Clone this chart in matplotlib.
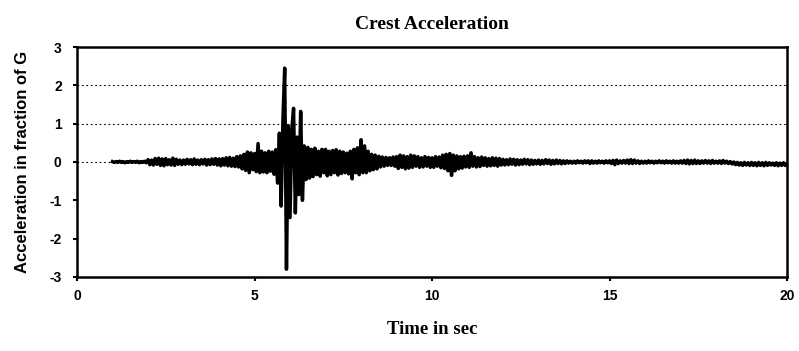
import numpy as np
import matplotlib.pyplot as plt

# crest acceleration record, sampled every 0.05 s from 1.0 s to 20.0 s
t_start = 1.0
dt = 0.05
accel = [
    # 1 s
    0.01, -0.01, 0.01, -0.01, 0.02, -0.01, 0.01, -0.02, 0.01, -0.01,
    0.02, -0.01, 0.01, -0.01, 0.02, -0.02, 0.01, -0.01, 0.02, -0.02,
    # 2 s
    0.06, -0.07, 0.05, -0.08, 0.09, -0.06, 0.10, -0.09, 0.08, -0.10,
    0.09, -0.07, 0.06, -0.08, 0.10, -0.09, 0.07, -0.06, 0.05, -0.07,
    # 3 s
    0.05, -0.06, 0.07, -0.05, 0.06, -0.07, 0.08, -0.06, 0.05, -0.07,
    0.06, -0.05, 0.07, -0.08, 0.06, -0.07, 0.08, -0.06, 0.09, -0.08,
    # 4 s
    0.08, -0.10, 0.09, -0.08, 0.11, -0.10, 0.12, -0.11, 0.10, -0.12,
    0.14, -0.13, 0.16, -0.18, 0.20, -0.22, 0.26, -0.28, 0.24, -0.20,
    # 5 s
    0.22, -0.25, 0.48, -0.28, 0.28, -0.26, 0.24, -0.28, 0.28, -0.24,
    0.26, -0.32, 0.32, -0.55, 0.75, -1.15, 1.10, 2.45, -2.80, 0.95,
    # 6 s
    -1.45, 0.85, 1.40, -1.33, 0.65, -0.85, 1.32, -1.00, 0.42, -0.46,
    0.38, -0.42, 0.33, -0.38, 0.36, -0.33, 0.28, -0.37, 0.33, -0.28,
    # 7 s
    0.33, -0.36, 0.28, -0.33, 0.30, -0.28, 0.32, -0.34, 0.28, -0.30,
    0.26, -0.28, 0.23, -0.31, 0.28, -0.44, 0.33, -0.28, 0.37, -0.33,
    # 8 s
    0.58, -0.28, 0.42, -0.28, 0.28, -0.23, 0.20, -0.20, 0.18, -0.18,
    0.15, -0.13, 0.13, -0.11, 0.12, -0.09, 0.11, -0.09, 0.13, -0.11,
    # 9 s
    0.14, -0.17, 0.18, -0.14, 0.16, -0.18, 0.14, -0.16, 0.18, -0.14,
    0.16, -0.11, 0.14, -0.14, 0.11, -0.13, 0.14, -0.11, 0.12, -0.14,
    # 10 s
    0.11, -0.14, 0.14, -0.11, 0.13, -0.15, 0.18, -0.17, 0.20, -0.23,
    0.22, -0.35, 0.18, -0.23, 0.16, -0.18, 0.14, -0.16, 0.15, -0.13,
    # 11 s
    0.16, -0.14, 0.24, -0.11, 0.14, -0.13, 0.11, -0.12, 0.13, -0.09,
    0.11, -0.11, 0.09, -0.10, 0.11, -0.09, 0.10, -0.11, 0.09, -0.08,
    # 12 s
    0.07, -0.08, 0.06, -0.07, 0.08, -0.06, 0.07, -0.08, 0.06, -0.07,
    0.05, -0.06, 0.07, -0.05, 0.06, -0.07, 0.05, -0.06, 0.04, -0.05,
    # 13 s
    0.05, -0.06, 0.04, -0.05, 0.06, -0.04, 0.05, -0.06, 0.04, -0.05,
    0.05, -0.04, 0.04, -0.05, 0.03, -0.04, 0.03, -0.03, 0.02, -0.03,
    # 14 s
    0.02, -0.03, 0.03, -0.02, 0.02, -0.03, 0.03, -0.02, 0.03, -0.04,
    0.03, -0.03, 0.02, -0.03, 0.03, -0.02, 0.02, -0.03, 0.03, -0.02,
    # 15 s
    0.03, -0.04, 0.04, -0.07, 0.05, -0.04, 0.03, -0.03, 0.04, -0.03,
    0.05, -0.04, 0.06, -0.04, 0.05, -0.03, 0.03, -0.04, 0.02, -0.03,
    # 16 s
    0.02, -0.03, 0.03, -0.02, 0.02, -0.03, 0.02, -0.02, 0.03, -0.02,
    0.02, -0.03, 0.03, -0.02, 0.02, -0.03, 0.03, -0.03, 0.02, -0.03,
    # 17 s
    0.03, -0.03, 0.04, -0.04, 0.05, -0.05, 0.04, -0.04, 0.05, -0.04,
    0.03, -0.04, 0.03, -0.03, 0.04, -0.03, 0.03, -0.04, 0.04, -0.03,
    # 18 s
    0.02, -0.03, 0.03, -0.04, 0.04, -0.03, 0.02, -0.04, 0.01, -0.05,
    0.00, -0.07, -0.01, -0.08, -0.02, -0.09, -0.01, -0.08, -0.02, -0.09,
    # 19 s
    -0.01, -0.09, -0.02, -0.10, -0.01, -0.09, -0.02, -0.10, -0.01, -0.09,
    -0.02, -0.08, -0.03, -0.09, -0.02, -0.10, -0.03, -0.09, -0.02, -0.09,
    -0.06,
]
time = t_start + dt * np.arange(len(accel))

x_ticks = [0, 5, 10, 15, 20]
y_ticks = [-3, -2, -1, 0, 1, 2, 3]
grid_levels = [0, 1, 2]

fig = plt.figure(figsize=(7.99, 3.51), dpi=100)
ax = fig.add_axes([0.0964, 0.211, 0.8886, 0.655])

for lvl in grid_levels:
    ax.axhline(lvl, color='black', linewidth=0.8, linestyle=(0, (1.5, 2.5)), zorder=1)

ax.plot(time, accel, color='black', linewidth=2.5, zorder=3)

ax.set_xlim(0, 20)
ax.set_ylim(-3, 3)
ax.set_xticks(x_ticks)
ax.set_yticks(y_ticks)
ax.set_xticklabels([str(v) for v in x_ticks], fontweight='bold', fontsize=10,
                   family='Liberation Sans')
ax.set_yticklabels([str(v) for v in y_ticks], fontweight='bold', fontsize=10,
                   family='Liberation Sans')
ax.tick_params(axis='x', direction='out', length=3, width=1.5, pad=6)
ax.tick_params(axis='y', direction='out', length=3, width=1.5, pad=8)

for side in ['left', 'right', 'top', 'bottom']:
    ax.spines[side].set_linewidth(1.8)
    ax.spines[side].set_color('black')

fig.text(0.540, 0.93, 'Crest Acceleration', ha='center', va='center',
         fontsize=14, fontweight='bold', family='Liberation Serif')
ax.set_xlabel('Time in sec', fontsize=13.5, fontweight='bold',
              family='Liberation Serif', labelpad=13)
ax.set_ylabel('Acceleration in fraction of G', fontsize=12, fontweight='bold',
              family='Liberation Sans', labelpad=14)

plt.savefig('out.png', dpi=100)
